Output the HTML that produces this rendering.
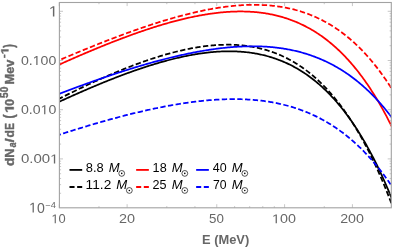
<!DOCTYPE html>
<html><head><meta charset="utf-8"><title>plot</title>
<style>
html,body{margin:0;padding:0;background:#fff;}
body{width:395px;height:248px;overflow:hidden;font-family:"Liberation Sans",sans-serif;}
svg{display:block;}
svg text{font-family:"Liberation Sans",sans-serif;}
</style></head><body>
<svg width="395" height="248" viewBox="0 0 395 248">
<rect width="395" height="248" fill="#fff"/>
<defs><clipPath id="cp"><rect x="59.4" y="2.5" width="331.90" height="205.30"/></clipPath></defs>
<g clip-path="url(#cp)">
<path d="M56.40,103.08 L57.40,102.61 L58.39,102.15 L59.39,101.69 L60.39,101.24 L61.38,100.78 L62.38,100.32 L63.38,99.87 L64.37,99.41 L65.37,98.96 L66.37,98.51 L67.36,98.05 L68.36,97.60 L69.36,97.15 L70.35,96.70 L71.35,96.26 L72.35,95.81 L73.34,95.36 L74.34,94.92 L75.34,94.48 L76.34,94.03 L77.33,93.59 L78.33,93.15 L79.33,92.72 L80.32,92.28 L81.32,91.84 L82.32,91.41 L83.31,90.97 L84.31,90.54 L85.31,90.11 L86.30,89.68 L87.30,89.25 L88.30,88.82 L89.29,88.39 L90.29,87.97 L91.29,87.54 L92.28,87.12 L93.28,86.70 L94.28,86.28 L95.27,85.86 L96.27,85.44 L97.27,85.03 L98.26,84.61 L99.26,84.20 L100.26,83.79 L101.25,83.38 L102.25,82.97 L103.25,82.56 L104.24,82.16 L105.24,81.75 L106.24,81.35 L107.23,80.95 L108.23,80.55 L109.23,80.15 L110.22,79.76 L111.22,79.36 L112.22,78.97 L113.22,78.58 L114.21,78.19 L115.21,77.80 L116.21,77.42 L117.20,77.03 L118.20,76.65 L119.20,76.27 L120.19,75.89 L121.19,75.51 L122.19,75.14 L123.18,74.77 L124.18,74.39 L125.18,74.02 L126.17,73.66 L127.17,73.29 L128.17,72.93 L129.16,72.57 L130.16,72.21 L131.16,71.85 L132.15,71.49 L133.15,71.14 L134.15,70.79 L135.14,70.44 L136.14,70.09 L137.14,69.75 L138.13,69.40 L139.13,69.06 L140.13,68.72 L141.12,68.39 L142.12,68.05 L143.12,67.72 L144.11,67.39 L145.11,67.07 L146.11,66.74 L147.10,66.42 L148.10,66.10 L149.10,65.78 L150.09,65.47 L151.09,65.16 L152.09,64.85 L153.09,64.54 L154.08,64.23 L155.08,63.93 L156.08,63.63 L157.07,63.34 L158.07,63.04 L159.07,62.75 L160.06,62.46 L161.06,62.18 L162.06,61.90 L163.05,61.62 L164.05,61.34 L165.05,61.07 L166.04,60.80 L167.04,60.53 L168.04,60.26 L169.03,60.00 L170.03,59.74 L171.03,59.49 L172.02,59.23 L173.02,58.98 L174.02,58.74 L175.01,58.49 L176.01,58.25 L177.01,58.02 L178.00,57.79 L179.00,57.56 L180.00,57.33 L180.99,57.11 L181.99,56.89 L182.99,56.67 L183.98,56.46 L184.98,56.25 L185.98,56.05 L186.97,55.85 L187.97,55.65 L188.97,55.45 L189.97,55.26 L190.96,55.08 L191.96,54.90 L192.96,54.72 L193.95,54.54 L194.95,54.37 L195.95,54.21 L196.94,54.05 L197.94,53.89 L198.94,53.73 L199.93,53.58 L200.93,53.44 L201.93,53.30 L202.92,53.16 L203.92,53.03 L204.92,52.90 L205.91,52.78 L206.91,52.66 L207.91,52.55 L208.90,52.44 L209.90,52.33 L210.90,52.23 L211.89,52.14 L212.89,52.05 L213.89,51.96 L214.88,51.88 L215.88,51.80 L216.88,51.73 L217.87,51.67 L218.87,51.61 L219.87,51.55 L220.86,51.50 L221.86,51.46 L222.86,51.42 L223.85,51.39 L224.85,51.36 L225.85,51.34 L226.85,51.32 L227.84,51.31 L228.84,51.30 L229.84,51.30 L230.83,51.31 L231.83,51.32 L232.83,51.34 L233.82,51.36 L234.82,51.39 L235.82,51.43 L236.81,51.47 L237.81,51.52 L238.81,51.57 L239.80,51.64 L240.80,51.70 L241.80,51.78 L242.79,51.86 L243.79,51.95 L244.79,52.04 L245.78,52.14 L246.78,52.25 L247.78,52.37 L248.77,52.49 L249.77,52.62 L250.77,52.75 L251.76,52.90 L252.76,53.05 L253.76,53.21 L254.75,53.37 L255.75,53.55 L256.75,53.73 L257.74,53.92 L258.74,54.11 L259.74,54.32 L260.73,54.53 L261.73,54.75 L262.73,54.98 L263.73,55.22 L264.72,55.46 L265.72,55.72 L266.72,55.98 L267.71,56.25 L268.71,56.53 L269.71,56.82 L270.70,57.12 L271.70,57.42 L272.70,57.74 L273.69,58.06 L274.69,58.40 L275.69,58.74 L276.68,59.09 L277.68,59.45 L278.68,59.83 L279.67,60.21 L280.67,60.60 L281.67,61.00 L282.66,61.41 L283.66,61.83 L284.66,62.26 L285.65,62.70 L286.65,63.16 L287.65,63.62 L288.64,64.09 L289.64,64.58 L290.64,65.07 L291.63,65.58 L292.63,66.09 L293.63,66.62 L294.62,67.16 L295.62,67.71 L296.62,68.27 L297.61,68.85 L298.61,69.43 L299.61,70.03 L300.61,70.64 L301.60,71.26 L302.60,71.90 L303.60,72.55 L304.59,73.21 L305.59,73.88 L306.59,74.56 L307.58,75.26 L308.58,75.97 L309.58,76.70 L310.57,77.43 L311.57,78.19 L312.57,78.95 L313.56,79.73 L314.56,80.52 L315.56,81.33 L316.55,82.15 L317.55,82.99 L318.55,83.84 L319.54,84.70 L320.54,85.58 L321.54,86.47 L322.53,87.38 L323.53,88.31 L324.53,89.25 L325.52,90.20 L326.52,91.18 L327.52,92.16 L328.51,93.17 L329.51,94.19 L330.51,95.22 L331.50,96.28 L332.50,97.34 L333.50,98.43 L334.49,99.53 L335.49,100.66 L336.49,101.79 L337.48,102.95 L338.48,104.12 L339.48,105.32 L340.48,106.53 L341.47,107.76 L342.47,109.00 L343.47,110.27 L344.46,111.55 L345.46,112.86 L346.46,114.18 L347.45,115.52 L348.45,116.89 L349.45,118.27 L350.44,119.67 L351.44,121.10 L352.44,122.54 L353.43,124.00 L354.43,125.49 L355.43,127.00 L356.42,128.52 L357.42,130.07 L358.42,131.65 L359.41,133.24 L360.41,134.86 L361.41,136.50 L362.40,138.16 L363.40,139.84 L364.40,141.55 L365.39,143.28 L366.39,145.04 L367.39,146.82 L368.38,148.62 L369.38,150.45 L370.38,152.30 L371.37,154.18 L372.37,156.09 L373.37,158.01 L374.36,159.97 L375.36,161.95 L376.36,163.96 L377.36,165.99 L378.35,168.05 L379.35,170.14 L380.35,172.25 L381.34,174.40 L382.34,176.57 L383.34,178.77 L384.33,181.00 L385.33,183.25 L386.33,185.54 L387.32,187.86 L388.32,190.20 L389.32,192.58 L390.31,194.98 L391.31,197.42 L392.31,199.89 L393.30,202.39 L394.30,204.92" fill="none" stroke="#000000" stroke-width="1.75"/>
<path d="M56.40,100.12 L57.40,99.62 L58.39,99.11 L59.39,98.61 L60.39,98.11 L61.38,97.61 L62.38,97.11 L63.38,96.61 L64.37,96.11 L65.37,95.61 L66.37,95.12 L67.36,94.62 L68.36,94.13 L69.36,93.64 L70.35,93.15 L71.35,92.66 L72.35,92.17 L73.34,91.68 L74.34,91.20 L75.34,90.71 L76.34,90.23 L77.33,89.75 L78.33,89.27 L79.33,88.79 L80.32,88.31 L81.32,87.84 L82.32,87.36 L83.31,86.89 L84.31,86.42 L85.31,85.95 L86.30,85.48 L87.30,85.01 L88.30,84.55 L89.29,84.08 L90.29,83.62 L91.29,83.16 L92.28,82.70 L93.28,82.24 L94.28,81.79 L95.27,81.33 L96.27,80.88 L97.27,80.43 L98.26,79.98 L99.26,79.53 L100.26,79.08 L101.25,78.64 L102.25,78.20 L103.25,77.76 L104.24,77.32 L105.24,76.88 L106.24,76.44 L107.23,76.01 L108.23,75.58 L109.23,75.15 L110.22,74.72 L111.22,74.29 L112.22,73.87 L113.22,73.45 L114.21,73.03 L115.21,72.61 L116.21,72.19 L117.20,71.78 L118.20,71.36 L119.20,70.95 L120.19,70.55 L121.19,70.14 L122.19,69.73 L123.18,69.33 L124.18,68.93 L125.18,68.54 L126.17,68.14 L127.17,67.75 L128.17,67.36 L129.16,66.97 L130.16,66.58 L131.16,66.20 L132.15,65.81 L133.15,65.44 L134.15,65.06 L135.14,64.68 L136.14,64.31 L137.14,63.94 L138.13,63.57 L139.13,63.21 L140.13,62.85 L141.12,62.49 L142.12,62.13 L143.12,61.78 L144.11,61.42 L145.11,61.08 L146.11,60.73 L147.10,60.39 L148.10,60.04 L149.10,59.71 L150.09,59.37 L151.09,59.04 L152.09,58.71 L153.09,58.38 L154.08,58.06 L155.08,57.74 L156.08,57.42 L157.07,57.10 L158.07,56.79 L159.07,56.48 L160.06,56.18 L161.06,55.88 L162.06,55.58 L163.05,55.28 L164.05,54.99 L165.05,54.70 L166.04,54.41 L167.04,54.13 L168.04,53.85 L169.03,53.57 L170.03,53.30 L171.03,53.03 L172.02,52.76 L173.02,52.50 L174.02,52.24 L175.01,51.99 L176.01,51.73 L177.01,51.49 L178.00,51.24 L179.00,51.00 L180.00,50.76 L180.99,50.53 L181.99,50.30 L182.99,50.08 L183.98,49.86 L184.98,49.64 L185.98,49.42 L186.97,49.22 L187.97,49.01 L188.97,48.81 L189.97,48.61 L190.96,48.42 L191.96,48.23 L192.96,48.05 L193.95,47.87 L194.95,47.69 L195.95,47.52 L196.94,47.36 L197.94,47.19 L198.94,47.04 L199.93,46.89 L200.93,46.74 L201.93,46.59 L202.92,46.46 L203.92,46.32 L204.92,46.19 L205.91,46.07 L206.91,45.95 L207.91,45.84 L208.90,45.73 L209.90,45.63 L210.90,45.53 L211.89,45.44 L212.89,45.35 L213.89,45.27 L214.88,45.19 L215.88,45.12 L216.88,45.05 L217.87,44.99 L218.87,44.94 L219.87,44.89 L220.86,44.84 L221.86,44.81 L222.86,44.77 L223.85,44.75 L224.85,44.73 L225.85,44.71 L226.85,44.71 L227.84,44.71 L228.84,44.71 L229.84,44.72 L230.83,44.74 L231.83,44.76 L232.83,44.79 L233.82,44.83 L234.82,44.87 L235.82,44.92 L236.81,44.98 L237.81,45.04 L238.81,45.11 L239.80,45.19 L240.80,45.27 L241.80,45.37 L242.79,45.46 L243.79,45.57 L244.79,45.68 L245.78,45.80 L246.78,45.93 L247.78,46.07 L248.77,46.21 L249.77,46.36 L250.77,46.52 L251.76,46.69 L252.76,46.86 L253.76,47.04 L254.75,47.23 L255.75,47.43 L256.75,47.64 L257.74,47.85 L258.74,48.08 L259.74,48.31 L260.73,48.55 L261.73,48.80 L262.73,49.06 L263.73,49.33 L264.72,49.60 L265.72,49.89 L266.72,50.18 L267.71,50.49 L268.71,50.80 L269.71,51.12 L270.70,51.45 L271.70,51.79 L272.70,52.15 L273.69,52.51 L274.69,52.88 L275.69,53.26 L276.68,53.65 L277.68,54.05 L278.68,54.46 L279.67,54.88 L280.67,55.32 L281.67,55.76 L282.66,56.21 L283.66,56.68 L284.66,57.15 L285.65,57.64 L286.65,58.14 L287.65,58.65 L288.64,59.17 L289.64,59.70 L290.64,60.25 L291.63,60.80 L292.63,61.37 L293.63,61.95 L294.62,62.54 L295.62,63.15 L296.62,63.76 L297.61,64.39 L298.61,65.03 L299.61,65.69 L300.61,66.35 L301.60,67.04 L302.60,67.73 L303.60,68.44 L304.59,69.16 L305.59,69.89 L306.59,70.64 L307.58,71.40 L308.58,72.18 L309.58,72.97 L310.57,73.77 L311.57,74.59 L312.57,75.42 L313.56,76.27 L314.56,77.13 L315.56,78.01 L316.55,78.90 L317.55,79.81 L318.55,80.74 L319.54,81.68 L320.54,82.63 L321.54,83.60 L322.53,84.59 L323.53,85.59 L324.53,86.61 L325.52,87.65 L326.52,88.71 L327.52,89.78 L328.51,90.86 L329.51,91.97 L330.51,93.09 L331.50,94.23 L332.50,95.39 L333.50,96.57 L334.49,97.76 L335.49,98.98 L336.49,100.21 L337.48,101.46 L338.48,102.73 L339.48,104.02 L340.48,105.33 L341.47,106.66 L342.47,108.00 L343.47,109.37 L344.46,110.76 L345.46,112.17 L346.46,113.60 L347.45,115.05 L348.45,116.52 L349.45,118.01 L350.44,119.52 L351.44,121.06 L352.44,122.62 L353.43,124.20 L354.43,125.80 L355.43,127.42 L356.42,129.07 L357.42,130.74 L358.42,132.44 L359.41,134.15 L360.41,135.89 L361.41,137.66 L362.40,139.45 L363.40,141.26 L364.40,143.10 L365.39,144.97 L366.39,146.86 L367.39,148.77 L368.38,150.71 L369.38,152.68 L370.38,154.67 L371.37,156.69 L372.37,158.74 L373.37,160.81 L374.36,162.91 L375.36,165.04 L376.36,167.20 L377.36,169.38 L378.35,171.60 L379.35,173.84 L380.35,176.11 L381.34,178.41 L382.34,180.74 L383.34,183.10 L384.33,185.50 L385.33,187.92 L386.33,190.37 L387.32,192.86 L388.32,195.37 L389.32,197.92 L390.31,200.50 L391.31,203.12 L392.31,205.76 L393.30,208.44 L394.30,211.15" fill="none" stroke="#000000" stroke-width="1.75" stroke-dasharray="5.33 2.42" stroke-dashoffset="5.98"/>
<path d="M56.40,65.87 L57.40,65.42 L58.39,64.97 L59.39,64.53 L60.39,64.08 L61.38,63.63 L62.38,63.19 L63.38,62.74 L64.37,62.30 L65.37,61.85 L66.37,61.41 L67.36,60.97 L68.36,60.53 L69.36,60.09 L70.35,59.65 L71.35,59.21 L72.35,58.77 L73.34,58.34 L74.34,57.90 L75.34,57.47 L76.34,57.03 L77.33,56.60 L78.33,56.17 L79.33,55.74 L80.32,55.31 L81.32,54.88 L82.32,54.45 L83.31,54.03 L84.31,53.60 L85.31,53.18 L86.30,52.75 L87.30,52.33 L88.30,51.91 L89.29,51.49 L90.29,51.07 L91.29,50.65 L92.28,50.23 L93.28,49.82 L94.28,49.40 L95.27,48.99 L96.27,48.58 L97.27,48.17 L98.26,47.76 L99.26,47.35 L100.26,46.94 L101.25,46.53 L102.25,46.13 L103.25,45.73 L104.24,45.32 L105.24,44.92 L106.24,44.52 L107.23,44.12 L108.23,43.73 L109.23,43.33 L110.22,42.94 L111.22,42.54 L112.22,42.15 L113.22,41.76 L114.21,41.37 L115.21,40.99 L116.21,40.60 L117.20,40.22 L118.20,39.83 L119.20,39.45 L120.19,39.07 L121.19,38.69 L122.19,38.32 L123.18,37.94 L124.18,37.57 L125.18,37.20 L126.17,36.83 L127.17,36.46 L128.17,36.09 L129.16,35.73 L130.16,35.36 L131.16,35.00 L132.15,34.64 L133.15,34.28 L134.15,33.93 L135.14,33.57 L136.14,33.22 L137.14,32.87 L138.13,32.52 L139.13,32.17 L140.13,31.83 L141.12,31.48 L142.12,31.14 L143.12,30.80 L144.11,30.46 L145.11,30.13 L146.11,29.79 L147.10,29.46 L148.10,29.13 L149.10,28.81 L150.09,28.48 L151.09,28.16 L152.09,27.84 L153.09,27.52 L154.08,27.20 L155.08,26.89 L156.08,26.58 L157.07,26.27 L158.07,25.96 L159.07,25.65 L160.06,25.35 L161.06,25.05 L162.06,24.75 L163.05,24.46 L164.05,24.16 L165.05,23.87 L166.04,23.58 L167.04,23.30 L168.04,23.01 L169.03,22.73 L170.03,22.46 L171.03,22.18 L172.02,21.91 L173.02,21.64 L174.02,21.37 L175.01,21.11 L176.01,20.84 L177.01,20.59 L178.00,20.33 L179.00,20.08 L180.00,19.83 L180.99,19.58 L181.99,19.33 L182.99,19.09 L183.98,18.85 L184.98,18.62 L185.98,18.39 L186.97,18.16 L187.97,17.93 L188.97,17.71 L189.97,17.49 L190.96,17.27 L191.96,17.06 L192.96,16.85 L193.95,16.64 L194.95,16.44 L195.95,16.24 L196.94,16.05 L197.94,15.85 L198.94,15.66 L199.93,15.48 L200.93,15.30 L201.93,15.12 L202.92,14.94 L203.92,14.77 L204.92,14.61 L205.91,14.44 L206.91,14.28 L207.91,14.13 L208.90,13.98 L209.90,13.83 L210.90,13.69 L211.89,13.55 L212.89,13.41 L213.89,13.28 L214.88,13.15 L215.88,13.03 L216.88,12.91 L217.87,12.80 L218.87,12.69 L219.87,12.58 L220.86,12.48 L221.86,12.39 L222.86,12.29 L223.85,12.21 L224.85,12.12 L225.85,12.05 L226.85,11.97 L227.84,11.90 L228.84,11.84 L229.84,11.78 L230.83,11.73 L231.83,11.68 L232.83,11.63 L233.82,11.60 L234.82,11.56 L235.82,11.53 L236.81,11.51 L237.81,11.49 L238.81,11.48 L239.80,11.47 L240.80,11.47 L241.80,11.48 L242.79,11.49 L243.79,11.50 L244.79,11.52 L245.78,11.55 L246.78,11.58 L247.78,11.62 L248.77,11.67 L249.77,11.72 L250.77,11.77 L251.76,11.83 L252.76,11.90 L253.76,11.98 L254.75,12.06 L255.75,12.15 L256.75,12.24 L257.74,12.34 L258.74,12.45 L259.74,12.57 L260.73,12.69 L261.73,12.81 L262.73,12.95 L263.73,13.09 L264.72,13.24 L265.72,13.40 L266.72,13.56 L267.71,13.73 L268.71,13.91 L269.71,14.09 L270.70,14.28 L271.70,14.48 L272.70,14.69 L273.69,14.91 L274.69,15.13 L275.69,15.36 L276.68,15.60 L277.68,15.85 L278.68,16.10 L279.67,16.36 L280.67,16.64 L281.67,16.92 L282.66,17.20 L283.66,17.50 L284.66,17.81 L285.65,18.12 L286.65,18.44 L287.65,18.78 L288.64,19.12 L289.64,19.47 L290.64,19.83 L291.63,20.20 L292.63,20.57 L293.63,20.96 L294.62,21.36 L295.62,21.77 L296.62,22.18 L297.61,22.61 L298.61,23.05 L299.61,23.49 L300.61,23.95 L301.60,24.42 L302.60,24.89 L303.60,25.38 L304.59,25.88 L305.59,26.39 L306.59,26.91 L307.58,27.44 L308.58,27.98 L309.58,28.54 L310.57,29.10 L311.57,29.68 L312.57,30.26 L313.56,30.86 L314.56,31.47 L315.56,32.10 L316.55,32.73 L317.55,33.38 L318.55,34.04 L319.54,34.71 L320.54,35.39 L321.54,36.09 L322.53,36.80 L323.53,37.52 L324.53,38.26 L325.52,39.01 L326.52,39.77 L327.52,40.55 L328.51,41.33 L329.51,42.14 L330.51,42.95 L331.50,43.78 L332.50,44.63 L333.50,45.49 L334.49,46.36 L335.49,47.25 L336.49,48.15 L337.48,49.07 L338.48,50.01 L339.48,50.95 L340.48,51.92 L341.47,52.90 L342.47,53.89 L343.47,54.90 L344.46,55.93 L345.46,56.97 L346.46,58.03 L347.45,59.11 L348.45,60.20 L349.45,61.31 L350.44,62.44 L351.44,63.58 L352.44,64.74 L353.43,65.92 L354.43,67.11 L355.43,68.33 L356.42,69.56 L357.42,70.81 L358.42,72.08 L359.41,73.37 L360.41,74.68 L361.41,76.00 L362.40,77.35 L363.40,78.71 L364.40,80.10 L365.39,81.50 L366.39,82.93 L367.39,84.37 L368.38,85.83 L369.38,87.32 L370.38,88.83 L371.37,90.36 L372.37,91.90 L373.37,93.48 L374.36,95.07 L375.36,96.68 L376.36,98.32 L377.36,99.98 L378.35,101.66 L379.35,103.37 L380.35,105.09 L381.34,106.85 L382.34,108.62 L383.34,110.42 L384.33,112.24 L385.33,114.09 L386.33,115.96 L387.32,117.86 L388.32,119.78 L389.32,121.73 L390.31,123.70 L391.31,125.70 L392.31,127.73 L393.30,129.78 L394.30,131.86" fill="none" stroke="#ff0000" stroke-width="1.75"/>
<path d="M56.40,61.38 L57.40,60.95 L58.39,60.52 L59.39,60.10 L60.39,59.67 L61.38,59.25 L62.38,58.83 L63.38,58.40 L64.37,57.98 L65.37,57.56 L66.37,57.14 L67.36,56.72 L68.36,56.30 L69.36,55.88 L70.35,55.46 L71.35,55.04 L72.35,54.62 L73.34,54.21 L74.34,53.79 L75.34,53.38 L76.34,52.96 L77.33,52.55 L78.33,52.13 L79.33,51.72 L80.32,51.31 L81.32,50.90 L82.32,50.49 L83.31,50.08 L84.31,49.67 L85.31,49.27 L86.30,48.86 L87.30,48.45 L88.30,48.05 L89.29,47.65 L90.29,47.24 L91.29,46.84 L92.28,46.44 L93.28,46.04 L94.28,45.64 L95.27,45.24 L96.27,44.84 L97.27,44.45 L98.26,44.05 L99.26,43.65 L100.26,43.26 L101.25,42.87 L102.25,42.48 L103.25,42.09 L104.24,41.70 L105.24,41.31 L106.24,40.92 L107.23,40.53 L108.23,40.15 L109.23,39.76 L110.22,39.38 L111.22,38.99 L112.22,38.61 L113.22,38.23 L114.21,37.85 L115.21,37.48 L116.21,37.10 L117.20,36.72 L118.20,36.35 L119.20,35.98 L120.19,35.60 L121.19,35.23 L122.19,34.86 L123.18,34.49 L124.18,34.13 L125.18,33.76 L126.17,33.40 L127.17,33.03 L128.17,32.67 L129.16,32.31 L130.16,31.95 L131.16,31.59 L132.15,31.24 L133.15,30.88 L134.15,30.53 L135.14,30.18 L136.14,29.83 L137.14,29.48 L138.13,29.13 L139.13,28.78 L140.13,28.44 L141.12,28.09 L142.12,27.75 L143.12,27.41 L144.11,27.07 L145.11,26.74 L146.11,26.40 L147.10,26.07 L148.10,25.74 L149.10,25.41 L150.09,25.08 L151.09,24.75 L152.09,24.42 L153.09,24.10 L154.08,23.78 L155.08,23.46 L156.08,23.14 L157.07,22.82 L158.07,22.51 L159.07,22.20 L160.06,21.89 L161.06,21.58 L162.06,21.27 L163.05,20.96 L164.05,20.66 L165.05,20.36 L166.04,20.06 L167.04,19.76 L168.04,19.47 L169.03,19.18 L170.03,18.88 L171.03,18.60 L172.02,18.31 L173.02,18.03 L174.02,17.74 L175.01,17.46 L176.01,17.18 L177.01,16.91 L178.00,16.64 L179.00,16.36 L180.00,16.10 L180.99,15.83 L181.99,15.57 L182.99,15.30 L183.98,15.05 L184.98,14.79 L185.98,14.53 L186.97,14.28 L187.97,14.03 L188.97,13.79 L189.97,13.54 L190.96,13.30 L191.96,13.06 L192.96,12.83 L193.95,12.59 L194.95,12.36 L195.95,12.14 L196.94,11.91 L197.94,11.69 L198.94,11.47 L199.93,11.25 L200.93,11.04 L201.93,10.83 L202.92,10.62 L203.92,10.42 L204.92,10.21 L205.91,10.02 L206.91,9.82 L207.91,9.63 L208.90,9.44 L209.90,9.25 L210.90,9.07 L211.89,8.89 L212.89,8.72 L213.89,8.54 L214.88,8.37 L215.88,8.21 L216.88,8.04 L217.87,7.89 L218.87,7.73 L219.87,7.58 L220.86,7.43 L221.86,7.29 L222.86,7.14 L223.85,7.01 L224.85,6.87 L225.85,6.74 L226.85,6.62 L227.84,6.50 L228.84,6.38 L229.84,6.26 L230.83,6.15 L231.83,6.05 L232.83,5.95 L233.82,5.85 L234.82,5.75 L235.82,5.67 L236.81,5.58 L237.81,5.50 L238.81,5.42 L239.80,5.35 L240.80,5.28 L241.80,5.22 L242.79,5.16 L243.79,5.11 L244.79,5.06 L245.78,5.01 L246.78,4.97 L247.78,4.94 L248.77,4.91 L249.77,4.88 L250.77,4.86 L251.76,4.84 L252.76,4.83 L253.76,4.83 L254.75,4.83 L255.75,4.83 L256.75,4.84 L257.74,4.86 L258.74,4.88 L259.74,4.90 L260.73,4.94 L261.73,4.97 L262.73,5.02 L263.73,5.06 L264.72,5.12 L265.72,5.18 L266.72,5.24 L267.71,5.32 L268.71,5.39 L269.71,5.48 L270.70,5.57 L271.70,5.66 L272.70,5.76 L273.69,5.87 L274.69,5.99 L275.69,6.11 L276.68,6.23 L277.68,6.37 L278.68,6.51 L279.67,6.66 L280.67,6.81 L281.67,6.97 L282.66,7.14 L283.66,7.31 L284.66,7.49 L285.65,7.68 L286.65,7.88 L287.65,8.08 L288.64,8.29 L289.64,8.51 L290.64,8.74 L291.63,8.97 L292.63,9.21 L293.63,9.46 L294.62,9.71 L295.62,9.98 L296.62,10.25 L297.61,10.53 L298.61,10.82 L299.61,11.11 L300.61,11.42 L301.60,11.73 L302.60,12.05 L303.60,12.38 L304.59,12.72 L305.59,13.07 L306.59,13.42 L307.58,13.79 L308.58,14.16 L309.58,14.55 L310.57,14.94 L311.57,15.34 L312.57,15.75 L313.56,16.17 L314.56,16.60 L315.56,17.04 L316.55,17.49 L317.55,17.95 L318.55,18.42 L319.54,18.90 L320.54,19.39 L321.54,19.89 L322.53,20.40 L323.53,20.92 L324.53,21.45 L325.52,21.99 L326.52,22.55 L327.52,23.11 L328.51,23.68 L329.51,24.27 L330.51,24.87 L331.50,25.48 L332.50,26.10 L333.50,26.73 L334.49,27.37 L335.49,28.03 L336.49,28.70 L337.48,29.38 L338.48,30.07 L339.48,30.78 L340.48,31.49 L341.47,32.22 L342.47,32.97 L343.47,33.72 L344.46,34.49 L345.46,35.27 L346.46,36.07 L347.45,36.88 L348.45,37.70 L349.45,38.53 L350.44,39.38 L351.44,40.25 L352.44,41.13 L353.43,42.02 L354.43,42.93 L355.43,43.85 L356.42,44.78 L357.42,45.74 L358.42,46.70 L359.41,47.68 L360.41,48.68 L361.41,49.69 L362.40,50.72 L363.40,51.77 L364.40,52.83 L365.39,53.90 L366.39,55.00 L367.39,56.10 L368.38,57.23 L369.38,58.37 L370.38,59.53 L371.37,60.71 L372.37,61.91 L373.37,63.12 L374.36,64.35 L375.36,65.60 L376.36,66.86 L377.36,68.15 L378.35,69.45 L379.35,70.77 L380.35,72.11 L381.34,73.47 L382.34,74.85 L383.34,76.25 L384.33,77.67 L385.33,79.11 L386.33,80.57 L387.32,82.04 L388.32,83.54 L389.32,85.06 L390.31,86.60 L391.31,88.17 L392.31,89.75 L393.30,91.35 L394.30,92.98" fill="none" stroke="#ff0000" stroke-width="1.75" stroke-dasharray="5.33 2.42" stroke-dashoffset="2.42"/>
<path d="M56.40,94.93 L57.40,94.55 L58.39,94.16 L59.39,93.78 L60.39,93.40 L61.38,93.02 L62.38,92.64 L63.38,92.26 L64.37,91.88 L65.37,91.51 L66.37,91.13 L67.36,90.75 L68.36,90.38 L69.36,90.00 L70.35,89.63 L71.35,89.26 L72.35,88.89 L73.34,88.52 L74.34,88.15 L75.34,87.78 L76.34,87.41 L77.33,87.04 L78.33,86.67 L79.33,86.31 L80.32,85.94 L81.32,85.58 L82.32,85.21 L83.31,84.85 L84.31,84.49 L85.31,84.13 L86.30,83.77 L87.30,83.41 L88.30,83.05 L89.29,82.70 L90.29,82.34 L91.29,81.99 L92.28,81.63 L93.28,81.28 L94.28,80.93 L95.27,80.57 L96.27,80.22 L97.27,79.87 L98.26,79.53 L99.26,79.18 L100.26,78.83 L101.25,78.49 L102.25,78.14 L103.25,77.80 L104.24,77.46 L105.24,77.12 L106.24,76.78 L107.23,76.44 L108.23,76.10 L109.23,75.76 L110.22,75.43 L111.22,75.09 L112.22,74.76 L113.22,74.43 L114.21,74.10 L115.21,73.77 L116.21,73.44 L117.20,73.11 L118.20,72.78 L119.20,72.46 L120.19,72.13 L121.19,71.81 L122.19,71.49 L123.18,71.17 L124.18,70.85 L125.18,70.53 L126.17,70.22 L127.17,69.90 L128.17,69.59 L129.16,69.28 L130.16,68.96 L131.16,68.66 L132.15,68.35 L133.15,68.04 L134.15,67.73 L135.14,67.43 L136.14,67.13 L137.14,66.83 L138.13,66.53 L139.13,66.23 L140.13,65.93 L141.12,65.63 L142.12,65.34 L143.12,65.05 L144.11,64.76 L145.11,64.47 L146.11,64.18 L147.10,63.89 L148.10,63.61 L149.10,63.32 L150.09,63.04 L151.09,62.76 L152.09,62.48 L153.09,62.21 L154.08,61.93 L155.08,61.66 L156.08,61.38 L157.07,61.11 L158.07,60.85 L159.07,60.58 L160.06,60.31 L161.06,60.05 L162.06,59.79 L163.05,59.53 L164.05,59.27 L165.05,59.02 L166.04,58.76 L167.04,58.51 L168.04,58.26 L169.03,58.01 L170.03,57.76 L171.03,57.52 L172.02,57.28 L173.02,57.04 L174.02,56.80 L175.01,56.56 L176.01,56.33 L177.01,56.09 L178.00,55.86 L179.00,55.64 L180.00,55.41 L180.99,55.18 L181.99,54.96 L182.99,54.74 L183.98,54.53 L184.98,54.31 L185.98,54.10 L186.97,53.89 L187.97,53.68 L188.97,53.47 L189.97,53.27 L190.96,53.07 L191.96,52.87 L192.96,52.67 L193.95,52.48 L194.95,52.28 L195.95,52.09 L196.94,51.91 L197.94,51.72 L198.94,51.54 L199.93,51.36 L200.93,51.18 L201.93,51.01 L202.92,50.84 L203.92,50.67 L204.92,50.50 L205.91,50.34 L206.91,50.18 L207.91,50.02 L208.90,49.87 L209.90,49.71 L210.90,49.56 L211.89,49.42 L212.89,49.27 L213.89,49.13 L214.88,49.00 L215.88,48.86 L216.88,48.73 L217.87,48.60 L218.87,48.47 L219.87,48.35 L220.86,48.23 L221.86,48.12 L222.86,48.00 L223.85,47.89 L224.85,47.79 L225.85,47.68 L226.85,47.58 L227.84,47.49 L228.84,47.39 L229.84,47.30 L230.83,47.22 L231.83,47.14 L232.83,47.06 L233.82,46.98 L234.82,46.91 L235.82,46.84 L236.81,46.77 L237.81,46.71 L238.81,46.66 L239.80,46.60 L240.80,46.55 L241.80,46.51 L242.79,46.47 L243.79,46.43 L244.79,46.39 L245.78,46.36 L246.78,46.34 L247.78,46.32 L248.77,46.30 L249.77,46.28 L250.77,46.27 L251.76,46.27 L252.76,46.27 L253.76,46.27 L254.75,46.28 L255.75,46.29 L256.75,46.31 L257.74,46.33 L258.74,46.36 L259.74,46.39 L260.73,46.42 L261.73,46.46 L262.73,46.50 L263.73,46.55 L264.72,46.61 L265.72,46.67 L266.72,46.73 L267.71,46.80 L268.71,46.87 L269.71,46.95 L270.70,47.04 L271.70,47.13 L272.70,47.22 L273.69,47.32 L274.69,47.43 L275.69,47.54 L276.68,47.65 L277.68,47.77 L278.68,47.90 L279.67,48.03 L280.67,48.17 L281.67,48.32 L282.66,48.47 L283.66,48.62 L284.66,48.78 L285.65,48.95 L286.65,49.12 L287.65,49.30 L288.64,49.49 L289.64,49.68 L290.64,49.88 L291.63,50.08 L292.63,50.30 L293.63,50.51 L294.62,50.74 L295.62,50.97 L296.62,51.20 L297.61,51.45 L298.61,51.70 L299.61,51.96 L300.61,52.22 L301.60,52.49 L302.60,52.77 L303.60,53.06 L304.59,53.35 L305.59,53.65 L306.59,53.96 L307.58,54.27 L308.58,54.59 L309.58,54.92 L310.57,55.26 L311.57,55.61 L312.57,55.96 L313.56,56.32 L314.56,56.69 L315.56,57.07 L316.55,57.45 L317.55,57.84 L318.55,58.25 L319.54,58.66 L320.54,59.07 L321.54,59.50 L322.53,59.94 L323.53,60.38 L324.53,60.83 L325.52,61.30 L326.52,61.77 L327.52,62.25 L328.51,62.74 L329.51,63.23 L330.51,63.74 L331.50,64.26 L332.50,64.79 L333.50,65.32 L334.49,65.87 L335.49,66.42 L336.49,66.99 L337.48,67.57 L338.48,68.15 L339.48,68.75 L340.48,69.35 L341.47,69.97 L342.47,70.60 L343.47,71.24 L344.46,71.89 L345.46,72.55 L346.46,73.22 L347.45,73.90 L348.45,74.59 L349.45,75.30 L350.44,76.01 L351.44,76.74 L352.44,77.48 L353.43,78.23 L354.43,78.99 L355.43,79.77 L356.42,80.55 L357.42,81.35 L358.42,82.16 L359.41,82.99 L360.41,83.82 L361.41,84.67 L362.40,85.53 L363.40,86.41 L364.40,87.30 L365.39,88.20 L366.39,89.12 L367.39,90.04 L368.38,90.99 L369.38,91.94 L370.38,92.91 L371.37,93.90 L372.37,94.90 L373.37,95.91 L374.36,96.94 L375.36,97.98 L376.36,99.04 L377.36,100.11 L378.35,101.20 L379.35,102.30 L380.35,103.42 L381.34,104.55 L382.34,105.70 L383.34,106.87 L384.33,108.05 L385.33,109.25 L386.33,110.46 L387.32,111.69 L388.32,112.94 L389.32,114.20 L390.31,115.49 L391.31,116.78 L392.31,118.10 L393.30,119.44 L394.30,120.79" fill="none" stroke="#0000ff" stroke-width="1.75"/>
<path d="M56.40,135.64 L57.40,135.32 L58.39,135.00 L59.39,134.68 L60.39,134.36 L61.38,134.04 L62.38,133.72 L63.38,133.40 L64.37,133.08 L65.37,132.77 L66.37,132.45 L67.36,132.14 L68.36,131.82 L69.36,131.51 L70.35,131.20 L71.35,130.88 L72.35,130.57 L73.34,130.26 L74.34,129.95 L75.34,129.65 L76.34,129.34 L77.33,129.03 L78.33,128.72 L79.33,128.42 L80.32,128.12 L81.32,127.81 L82.32,127.51 L83.31,127.21 L84.31,126.91 L85.31,126.61 L86.30,126.31 L87.30,126.01 L88.30,125.71 L89.29,125.42 L90.29,125.12 L91.29,124.83 L92.28,124.54 L93.28,124.24 L94.28,123.95 L95.27,123.66 L96.27,123.37 L97.27,123.08 L98.26,122.80 L99.26,122.51 L100.26,122.23 L101.25,121.94 L102.25,121.66 L103.25,121.38 L104.24,121.10 L105.24,120.82 L106.24,120.54 L107.23,120.26 L108.23,119.98 L109.23,119.71 L110.22,119.43 L111.22,119.16 L112.22,118.89 L113.22,118.62 L114.21,118.35 L115.21,118.08 L116.21,117.81 L117.20,117.55 L118.20,117.28 L119.20,117.02 L120.19,116.76 L121.19,116.50 L122.19,116.24 L123.18,115.98 L124.18,115.72 L125.18,115.47 L126.17,115.21 L127.17,114.96 L128.17,114.71 L129.16,114.46 L130.16,114.21 L131.16,113.96 L132.15,113.71 L133.15,113.47 L134.15,113.22 L135.14,112.98 L136.14,112.74 L137.14,112.50 L138.13,112.27 L139.13,112.03 L140.13,111.79 L141.12,111.56 L142.12,111.33 L143.12,111.10 L144.11,110.87 L145.11,110.65 L146.11,110.42 L147.10,110.20 L148.10,109.97 L149.10,109.75 L150.09,109.54 L151.09,109.32 L152.09,109.10 L153.09,108.89 L154.08,108.68 L155.08,108.47 L156.08,108.26 L157.07,108.05 L158.07,107.85 L159.07,107.65 L160.06,107.44 L161.06,107.24 L162.06,107.05 L163.05,106.85 L164.05,106.66 L165.05,106.47 L166.04,106.28 L167.04,106.09 L168.04,105.90 L169.03,105.72 L170.03,105.54 L171.03,105.36 L172.02,105.18 L173.02,105.00 L174.02,104.83 L175.01,104.66 L176.01,104.49 L177.01,104.32 L178.00,104.16 L179.00,103.99 L180.00,103.83 L180.99,103.67 L181.99,103.52 L182.99,103.36 L183.98,103.21 L184.98,103.06 L185.98,102.92 L186.97,102.77 L187.97,102.63 L188.97,102.49 L189.97,102.35 L190.96,102.22 L191.96,102.08 L192.96,101.95 L193.95,101.83 L194.95,101.70 L195.95,101.58 L196.94,101.46 L197.94,101.34 L198.94,101.23 L199.93,101.12 L200.93,101.01 L201.93,100.90 L202.92,100.80 L203.92,100.70 L204.92,100.60 L205.91,100.51 L206.91,100.41 L207.91,100.32 L208.90,100.24 L209.90,100.15 L210.90,100.07 L211.89,100.00 L212.89,99.92 L213.89,99.85 L214.88,99.78 L215.88,99.72 L216.88,99.66 L217.87,99.60 L218.87,99.54 L219.87,99.49 L220.86,99.44 L221.86,99.40 L222.86,99.36 L223.85,99.32 L224.85,99.28 L225.85,99.25 L226.85,99.22 L227.84,99.20 L228.84,99.18 L229.84,99.16 L230.83,99.15 L231.83,99.14 L232.83,99.13 L233.82,99.13 L234.82,99.13 L235.82,99.13 L236.81,99.14 L237.81,99.15 L238.81,99.17 L239.80,99.19 L240.80,99.22 L241.80,99.25 L242.79,99.28 L243.79,99.32 L244.79,99.36 L245.78,99.40 L246.78,99.45 L247.78,99.51 L248.77,99.56 L249.77,99.63 L250.77,99.69 L251.76,99.77 L252.76,99.84 L253.76,99.92 L254.75,100.01 L255.75,100.10 L256.75,100.19 L257.74,100.29 L258.74,100.40 L259.74,100.51 L260.73,100.62 L261.73,100.74 L262.73,100.87 L263.73,100.99 L264.72,101.13 L265.72,101.27 L266.72,101.41 L267.71,101.56 L268.71,101.72 L269.71,101.88 L270.70,102.05 L271.70,102.22 L272.70,102.40 L273.69,102.58 L274.69,102.77 L275.69,102.96 L276.68,103.16 L277.68,103.37 L278.68,103.58 L279.67,103.80 L280.67,104.02 L281.67,104.25 L282.66,104.48 L283.66,104.73 L284.66,104.98 L285.65,105.23 L286.65,105.49 L287.65,105.76 L288.64,106.03 L289.64,106.31 L290.64,106.60 L291.63,106.89 L292.63,107.19 L293.63,107.50 L294.62,107.82 L295.62,108.14 L296.62,108.46 L297.61,108.80 L298.61,109.14 L299.61,109.49 L300.61,109.85 L301.60,110.21 L302.60,110.59 L303.60,110.97 L304.59,111.35 L305.59,111.75 L306.59,112.15 L307.58,112.56 L308.58,112.98 L309.58,113.41 L310.57,113.84 L311.57,114.28 L312.57,114.74 L313.56,115.20 L314.56,115.66 L315.56,116.14 L316.55,116.63 L317.55,117.12 L318.55,117.62 L319.54,118.13 L320.54,118.65 L321.54,119.18 L322.53,119.72 L323.53,120.27 L324.53,120.83 L325.52,121.39 L326.52,121.97 L327.52,122.56 L328.51,123.15 L329.51,123.76 L330.51,124.37 L331.50,125.00 L332.50,125.63 L333.50,126.28 L334.49,126.94 L335.49,127.60 L336.49,128.28 L337.48,128.97 L338.48,129.67 L339.48,130.38 L340.48,131.10 L341.47,131.83 L342.47,132.57 L343.47,133.32 L344.46,134.09 L345.46,134.87 L346.46,135.65 L347.45,136.46 L348.45,137.27 L349.45,138.09 L350.44,138.93 L351.44,139.78 L352.44,140.64 L353.43,141.51 L354.43,142.40 L355.43,143.30 L356.42,144.21 L357.42,145.13 L358.42,146.07 L359.41,147.02 L360.41,147.99 L361.41,148.97 L362.40,149.96 L363.40,150.97 L364.40,151.99 L365.39,153.02 L366.39,154.07 L367.39,155.13 L368.38,156.21 L369.38,157.30 L370.38,158.41 L371.37,159.53 L372.37,160.67 L373.37,161.82 L374.36,162.99 L375.36,164.17 L376.36,165.37 L377.36,166.59 L378.35,167.82 L379.35,169.07 L380.35,170.33 L381.34,171.61 L382.34,172.91 L383.34,174.23 L384.33,175.56 L385.33,176.91 L386.33,178.27 L387.32,179.66 L388.32,181.06 L389.32,182.48 L390.31,183.92 L391.31,185.38 L392.31,186.85 L393.30,188.35 L394.30,189.86" fill="none" stroke="#0000ff" stroke-width="1.75" stroke-dasharray="5.33 2.42" stroke-dashoffset="0.71"/>
</g>
<g stroke="#b0b0b0" stroke-width="0.7" fill="none"><path d="M59.30,207.8v-3.6M59.30,2.5v3.6"/><path d="M127.12,207.8v-3.6M127.12,2.5v3.6"/><path d="M216.78,207.8v-3.6M216.78,2.5v3.6"/><path d="M284.60,207.8v-3.6M284.60,2.5v3.6"/><path d="M352.42,207.8v-3.6M352.42,2.5v3.6"/><path d="M98.97,207.8v-1.7M98.97,2.5v1.7"/><path d="M166.80,207.8v-1.7M166.80,2.5v1.7"/><path d="M194.94,207.8v-1.7M194.94,2.5v1.7"/><path d="M234.62,207.8v-1.7M234.62,2.5v1.7"/><path d="M249.70,207.8v-1.7M249.70,2.5v1.7"/><path d="M262.77,207.8v-1.7M262.77,2.5v1.7"/><path d="M274.29,207.8v-1.7M274.29,2.5v1.7"/><path d="M324.27,207.8v-1.7M324.27,2.5v1.7"/><path d="M59.4,11.30h3.6M391.3,11.30h-3.6"/><path d="M59.4,60.50h3.6M391.3,60.50h-3.6"/><path d="M59.4,109.70h3.6M391.3,109.70h-3.6"/><path d="M59.4,158.90h3.6M391.3,158.90h-3.6"/><path d="M59.4,45.69h1.7M391.3,45.69h-1.7"/><path d="M59.4,37.03h1.7M391.3,37.03h-1.7"/><path d="M59.4,30.88h1.7M391.3,30.88h-1.7"/><path d="M59.4,26.11h1.7M391.3,26.11h-1.7"/><path d="M59.4,22.21h1.7M391.3,22.21h-1.7"/><path d="M59.4,18.92h1.7M391.3,18.92h-1.7"/><path d="M59.4,16.07h1.7M391.3,16.07h-1.7"/><path d="M59.4,13.55h1.7M391.3,13.55h-1.7"/><path d="M59.4,94.89h1.7M391.3,94.89h-1.7"/><path d="M59.4,86.23h1.7M391.3,86.23h-1.7"/><path d="M59.4,80.08h1.7M391.3,80.08h-1.7"/><path d="M59.4,75.31h1.7M391.3,75.31h-1.7"/><path d="M59.4,71.41h1.7M391.3,71.41h-1.7"/><path d="M59.4,68.12h1.7M391.3,68.12h-1.7"/><path d="M59.4,65.27h1.7M391.3,65.27h-1.7"/><path d="M59.4,62.75h1.7M391.3,62.75h-1.7"/><path d="M59.4,144.09h1.7M391.3,144.09h-1.7"/><path d="M59.4,135.43h1.7M391.3,135.43h-1.7"/><path d="M59.4,129.28h1.7M391.3,129.28h-1.7"/><path d="M59.4,124.51h1.7M391.3,124.51h-1.7"/><path d="M59.4,120.61h1.7M391.3,120.61h-1.7"/><path d="M59.4,117.32h1.7M391.3,117.32h-1.7"/><path d="M59.4,114.47h1.7M391.3,114.47h-1.7"/><path d="M59.4,111.95h1.7M391.3,111.95h-1.7"/><path d="M59.4,193.29h1.7M391.3,193.29h-1.7"/><path d="M59.4,184.63h1.7M391.3,184.63h-1.7"/><path d="M59.4,178.48h1.7M391.3,178.48h-1.7"/><path d="M59.4,173.71h1.7M391.3,173.71h-1.7"/><path d="M59.4,169.81h1.7M391.3,169.81h-1.7"/><path d="M59.4,166.52h1.7M391.3,166.52h-1.7"/><path d="M59.4,163.67h1.7M391.3,163.67h-1.7"/><path d="M59.4,161.15h1.7M391.3,161.15h-1.7"/></g>
<rect x="59.4" y="2.5" width="331.90" height="205.30" fill="none" stroke="#a2a2a2" stroke-width="1.1"/>
<g opacity="0.995">
<g fill="#666666">
<g transform="translate(48.76,16.45) scale(1.1200,1)"><path transform="translate(0.00,0) scale(14.7)" d="M.2515,0V-.604L.0962,-.493V-.576L.2588,-.688H.3398V0Z"/></g>
<g transform="translate(20.94,65.00) scale(1.0949,1)"><text x="0.00" y="0" font-size="12.9">0.</text><path transform="translate(10.76,0) scale(12.9)" d="M.2515,0V-.604L.0962,-.493V-.576L.2588,-.688H.3398V0Z"/><text x="17.93" y="0" font-size="12.9">00</text></g>
<g transform="translate(20.94,114.20) scale(1.0949,1)"><text x="0.00" y="0" font-size="12.9">0.0</text><path transform="translate(17.93,0) scale(12.9)" d="M.2515,0V-.604L.0962,-.493V-.576L.2588,-.688H.3398V0Z"/><text x="25.10" y="0" font-size="12.9">0</text></g>
<g transform="translate(20.90,163.40) scale(1.1631,1)"><text x="0.00" y="0" font-size="12.9">0.00</text><path transform="translate(25.10,0) scale(12.9)" d="M.2515,0V-.604L.0962,-.493V-.576L.2588,-.688H.3398V0Z"/></g>
<g transform="translate(29.05,212.60) scale(0.9857,1)"><path transform="translate(0.00,0) scale(14.3)" d="M.2515,0V-.604L.0962,-.493V-.576L.2588,-.688H.3398V0Z"/><text x="7.95" y="0" font-size="14.3">0</text></g>
<g transform="translate(45.44,207.70) scale(1.1006,1)"><text x="0.00" y="0" font-size="8.4">−4</text></g>
<g transform="translate(51.46,223.30) scale(0.9977,1)"><path transform="translate(0.00,0) scale(12.9)" d="M.2515,0V-.604L.0962,-.493V-.576L.2588,-.688H.3398V0Z"/><text x="7.17" y="0" font-size="12.9">0</text></g>
<g transform="translate(119.08,223.30) scale(1.1193,1)"><text x="0.00" y="0" font-size="12.9">20</text></g>
<g transform="translate(208.97,223.30) scale(1.0336,1)"><text x="0.00" y="0" font-size="12.9">50</text></g>
<g transform="translate(272.02,223.30) scale(1.1110,1)"><path transform="translate(0.00,0) scale(12.9)" d="M.2515,0V-.604L.0962,-.493V-.576L.2588,-.688H.3398V0Z"/><text x="7.17" y="0" font-size="12.9">00</text></g>
<g transform="translate(340.19,223.30) scale(1.1032,1)"><text x="0.00" y="0" font-size="12.9">200</text></g>
<text transform="translate(202.06,243.90) scale(1.0382,1)" font-size="12.4" font-weight="bold">E (MeV)</text>
<g transform="translate(13.7,166.0) rotate(-90)" stroke="#666666" stroke-width="0.4" stroke-linejoin="round"><text transform="translate(-0.00,0) scale(1.1179,1.0)" font-size="12.4" font-weight="bold">d</text><text transform="translate(8.32,0) scale(1.0252,1.0)" font-size="12.4" font-weight="bold">N</text><text transform="translate(18.71,2.5) scale(0.8136,1.0)" font-size="10.4" font-weight="bold" font-style="italic">a</text><text transform="translate(23.50,0) scale(1.2097,1.0)" font-size="12.4" font-weight="bold">/</text><text transform="translate(28.47,0) scale(0.9741,1.0)" font-size="12.4" font-weight="bold">d</text><text transform="translate(36.29,0) scale(0.8136,1.0)" font-size="12.4" font-weight="bold">E</text><text transform="translate(47.44,0.0) scale(0.9793,1.12)" font-size="12.4" font-weight="bold">(</text><path transform="translate(52.89,0) scale(16.214,12.4)" d="M.2334,0V-.5713L.0684,-.4683V-.5762L.2407,-.688H.3706V0Z" stroke-width="0.0323"/><text transform="translate(60.27,0) scale(0.9677,1.0)" font-size="12.4" font-weight="bold">0</text><text transform="translate(68.05,-5.3) scale(0.9708,1.0)" font-size="10.4" font-weight="bold">50</text><text transform="translate(81.62,0) scale(1.0237,1.0)" font-size="12.4" font-weight="bold">Mev</text><text transform="translate(107.79,-5.3) scale(0.6154,1.0)" font-size="10.4" font-weight="bold">−</text><path transform="translate(111.72,-5.3) scale(12.905,10.4)" d="M.2334,0V-.5713L.0684,-.4683V-.5762L.2407,-.688H.3706V0Z" stroke-width="0.0385"/><text transform="translate(118.30,0.0) scale(0.8641,1.12)" font-size="12.4" font-weight="bold">)</text></g>
</g>
<g fill="none"><path d="M69.5,169.9h12.7" stroke="#000000" stroke-width="1.85"/><path d="M69.5,187.0h12.7" stroke="#000000" stroke-width="1.85" stroke-dasharray="5.05 2.6"/><text transform="translate(85.82,172.25) scale(1.0549,1)" font-size="12.25" fill="#000">8.8</text>
<text transform="translate(108.76,172.25) scale(1.0648,1)" font-size="12.25" font-style="italic" fill="#000">M</text>
<circle cx="121.7" cy="173.4" r="2.9" fill="none" stroke="#000" stroke-width="0.68"/><circle cx="121.7" cy="173.4" r="0.78" fill="#000"/><text transform="translate(85.62,189.30) scale(1.1181,1)" font-size="12.25" fill="#000">11.2</text>
<text transform="translate(116.35,189.30) scale(1.0749,1)" font-size="12.25" font-style="italic" fill="#000">M</text>
<circle cx="129.35" cy="190.45" r="2.9" fill="none" stroke="#000" stroke-width="0.68"/><circle cx="129.35" cy="190.45" r="0.78" fill="#000"/>
<path d="M136.15,169.9h12.7" stroke="#ff0000" stroke-width="1.85"/><path d="M136.15,187.0h12.7" stroke="#ff0000" stroke-width="1.85" stroke-dasharray="5.05 2.6"/><text transform="translate(152.60,172.25) scale(1.0337,1)" font-size="12.25" fill="#000">18</text>
<text transform="translate(171.86,172.25) scale(1.0648,1)" font-size="12.25" font-style="italic" fill="#000">M</text>
<circle cx="184.8" cy="173.4" r="2.9" fill="none" stroke="#000" stroke-width="0.68"/><circle cx="184.8" cy="173.4" r="0.78" fill="#000"/><text transform="translate(152.62,189.30) scale(1.0284,1)" font-size="12.25" fill="#000">25</text>
<text transform="translate(171.86,189.30) scale(1.0648,1)" font-size="12.25" font-style="italic" fill="#000">M</text>
<circle cx="184.8" cy="190.45" r="2.9" fill="none" stroke="#000" stroke-width="0.68"/><circle cx="184.8" cy="190.45" r="0.78" fill="#000"/>
<path d="M196.15,169.9h12.7" stroke="#0000ff" stroke-width="1.85"/><path d="M196.15,187.0h12.7" stroke="#0000ff" stroke-width="1.85" stroke-dasharray="5.05 2.6"/><text transform="translate(212.74,172.25) scale(1.0185,1)" font-size="12.25" fill="#000">40</text>
<text transform="translate(231.86,172.25) scale(1.0648,1)" font-size="12.25" font-style="italic" fill="#000">M</text>
<circle cx="244.8" cy="173.4" r="2.9" fill="none" stroke="#000" stroke-width="0.68"/><circle cx="244.8" cy="173.4" r="0.78" fill="#000"/><text transform="translate(212.99,189.30) scale(0.9955,1)" font-size="12.25" fill="#000">70</text>
<text transform="translate(231.86,189.30) scale(1.0648,1)" font-size="12.25" font-style="italic" fill="#000">M</text>
<circle cx="244.8" cy="190.45" r="2.9" fill="none" stroke="#000" stroke-width="0.68"/><circle cx="244.8" cy="190.45" r="0.78" fill="#000"/>
</g>
</g>
</svg>
</body></html>
